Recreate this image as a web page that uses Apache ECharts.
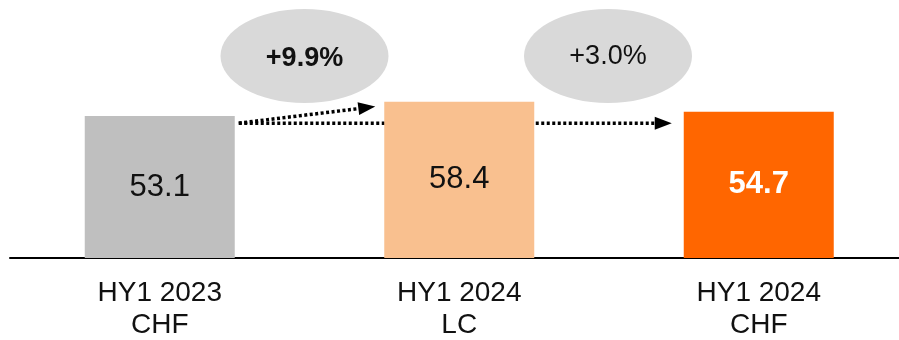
<!DOCTYPE html>
<html>
<head>
<meta charset="utf-8">
<script src="https://cdn.jsdelivr.net/npm/echarts@6/dist/echarts.min.js"></script>
<style>
  html, body { margin: 0; padding: 0; background: #fff; }
  #chart { width: 899px; height: 340px; }
</style>
</head>
<body>
<div id="chart"></div>
<script>
// data
const categories = ['HY1 2023\nCHF', 'HY1 2024\nLC', 'HY1 2024\nCHF']
const values = [53.1, 58.4, 54.7]
const changes = ['+9.9%', '+3.0%']

const FONT = '"Liberation Sans", Arial, sans-serif'
const barStyles = [
  { color: '#bfbfbf', label: '#111', weight: 'normal' },
  { color: '#f9c08f', label: '#111', weight: 'normal' },
  { color: '#ff6600', label: '#fff', weight: 'bold' }
]

const chart = echarts.init(document.getElementById('chart'))

chart.setOption({
  animation: false,
  backgroundColor: '#fff',
  grid: {
    left: 10,
    width: 898.5,
    top: 44,
    bottom: 82,
    outerBoundsMode: 'none',
    containLabel: false
  },
  xAxis: {
    type: 'category',
    data: categories,
    axisLine: { lineStyle: { color: '#000', width: 2 } },
    axisTick: { show: false },
    axisLabel: {
      margin: 19,
      fontSize: 28,
      lineHeight: 32,
      color: '#111',
      fontFamily: FONT
    }
  },
  yAxis: {
    type: 'value',
    min: 0,
    max: 80,
    show: false
  },
  series: [{
    type: 'bar',
    barWidth: 150,
    data: values.map((v, i) => ({
      value: v,
      itemStyle: { color: barStyles[i].color },
      label: { color: barStyles[i].label, fontWeight: barStyles[i].weight }
    })),
    label: {
      show: true,
      position: 'inside',
      fontSize: 31,
      fontFamily: FONT,
      formatter: p => p.value.toFixed(1)
    }
  }]
})

// annotations: ellipses with growth and dotted arrows, placed from the axes
function px(i, v) {
  return chart.convertToPixel({ xAxisIndex: 0, yAxisIndex: 0 }, [i, v])
}

function arrow(x1, y1, x2, y2) {
  const ang = Math.atan2(y2 - y1, x2 - x1)
  const len = 17, half = 6.5
  const bx = x2 - len * Math.cos(ang), by = y2 - len * Math.sin(ang)
  const nx = -Math.sin(ang), ny = Math.cos(ang)
  return [
    {
      type: 'line',
      shape: { x1: x1, y1: y1, x2: bx, y2: by },
      style: { stroke: '#000', lineWidth: 3.5, lineDash: [3, 2.5] }
    },
    {
      type: 'polygon',
      shape: { points: [[x2, y2], [bx + nx * half, by + ny * half], [bx - nx * half, by - ny * half]] },
      style: { fill: '#000' }
    }
  ]
}

const halfBar = 75
const c0 = px(0, values[0])
const c1 = px(1, values[1])
const c2 = px(2, values[2])
const startX = c0[0] + halfBar + 4
const startY = px(0, 50.4)[1]

const graphics = []
graphics.push(...arrow(startX, startY, c1[0] - halfBar - 9, px(1, 56.6)[1]))
graphics.push(...arrow(startX, startY, c2[0] - halfBar - 12, startY))

const ellipseY = px(0, 75.5)[1]
const ellipseX = [(c0[0] + c1[0]) / 2 - 5, (c1[0] + c2[0]) / 2 - 1]
changes.forEach((t, i) => {
  graphics.push({
    type: 'ellipse',
    shape: { cx: ellipseX[i], cy: ellipseY, rx: 84, ry: 47 },
    style: { fill: '#d9d9d9' }
  })
  graphics.push({
    type: 'text',
    x: ellipseX[i],
    y: ellipseY + (i === 0 ? 3 : 1),
    style: {
      text: t,
      fill: '#111',
      font: (i === 0 ? 'bold ' : '') + '27px ' + FONT,
      align: 'center',
      verticalAlign: 'middle'
    }
  })
})

chart.setOption({ graphic: graphics })
</script>
</body>
</html>
